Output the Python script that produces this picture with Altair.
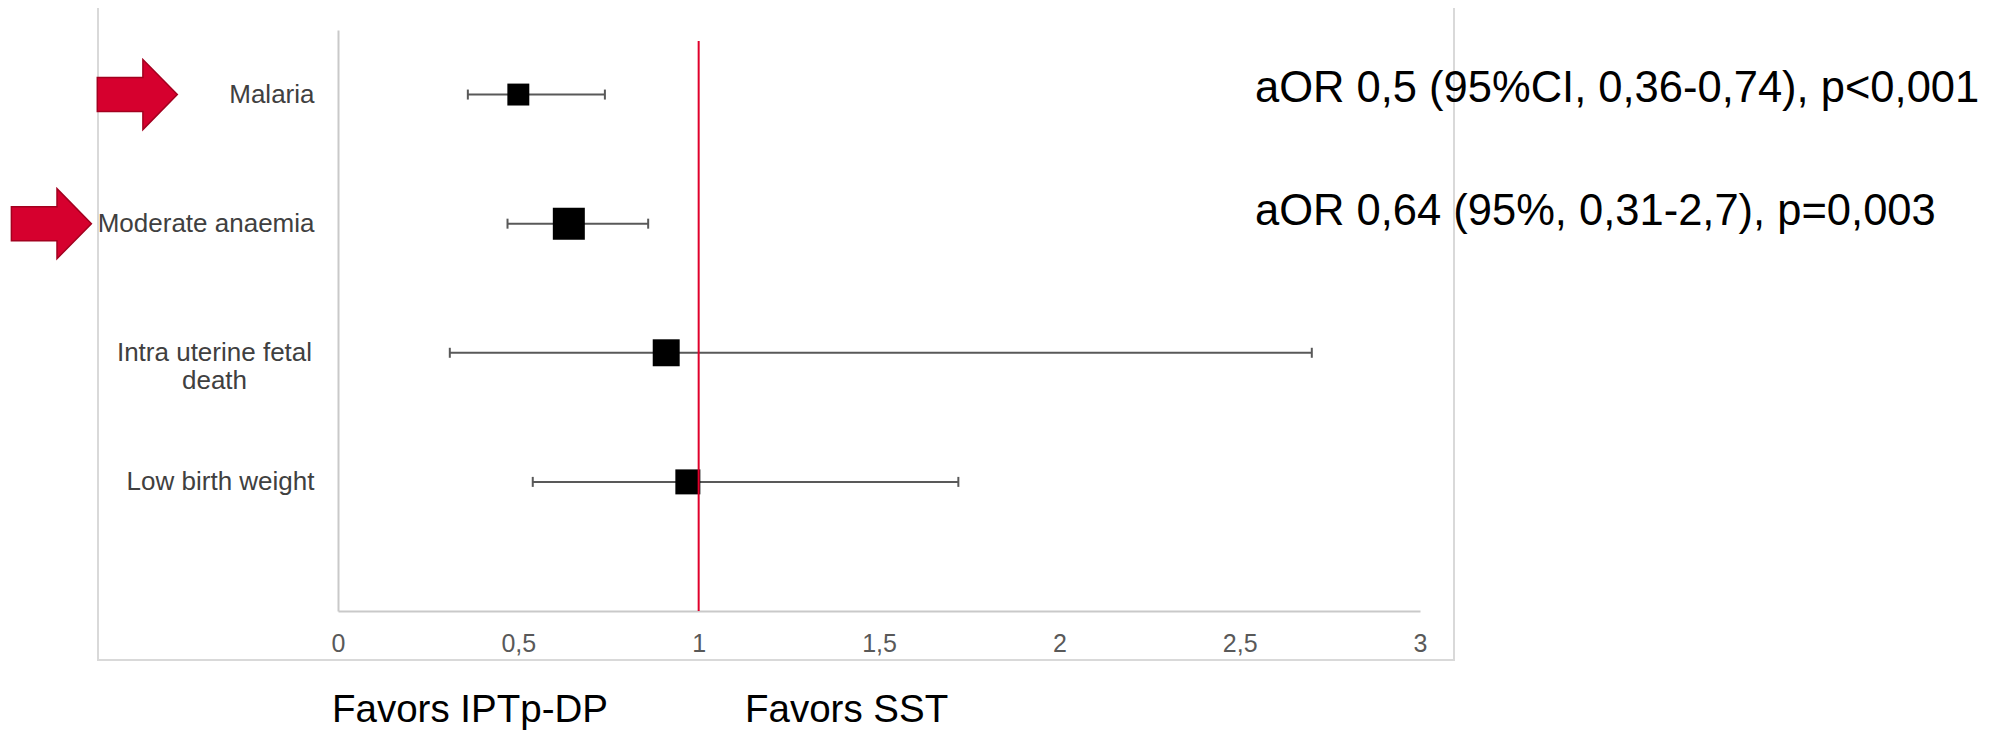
import altair as alt
import pandas as pd

# ---- data ----
categories = ["Malaria", "Moderate anaemia", "Intra uterine fetal\ndeath", "Low birth weight"]
row_position = [4, 3, 2, 1]
aor = [0.50, 0.64, 0.91, 0.97]
ci_low = [0.36, 0.47, 0.31, 0.54]
ci_high = [0.74, 0.86, 2.70, 1.72]
weight = [0.47, 1.00, 0.71, 0.61]
highlighted = [True, True, False, False]
x_ticks = [0, 0.5, 1, 1.5, 2, 2.5, 3]
annotations = ["aOR 0,5 (95%CI, 0,36-0,74), p<0,001", "aOR 0,64 (95%, 0,31-2,7), p=0,003"]
favors = ["Favors IPTp-DP", "Favors SST"]

df = pd.DataFrame({
    "category": categories,
    "row": row_position,
    "aor": aor,
    "low": ci_low,
    "high": ci_high,
    "weight": weight,
    "highlight": highlighted,
    "wrapped": ["\n" in c for c in categories],
})

FONT = "Liberation Sans"
W, H = 1082, 581

xscale = alt.Scale(domain=[0, 3], nice=False, zero=False)
yscale = alt.Scale(domain=[0, 4.5], nice=False, zero=False)

label_expr = " : ".join(
    f"datum.value == {r} ? '{c}'" for r, c in zip(row_position, categories) if "\n" not in c
) + " : ''"

x_axis = alt.Axis(values=x_ticks, labelExpr="replace(format(datum.value, '~g'), '.', ',')",
                  title=None, grid=False, ticks=False, tickSize=0, labelFlush=False,
                  labelOverlap=False, domainColor="#c9c9c9", domainWidth=2,
                  labelFont=FONT, labelFontSize=25, labelColor="#595959", labelPadding=20)
y_axis = alt.Axis(values=row_position, labelExpr=label_expr, title=None, grid=False,
                  ticks=False, tickSize=0, labelFlush=False, labelOverlap=False,
                  domainColor="#c9c9c9", domainWidth=2,
                  labelFont=FONT, labelFontSize=26, labelColor="#404040", labelPadding=24,
                  labelAlign="right", labelBaseline="middle", labelLimit=500)


def X(field):
    return alt.X(field, type="quantitative", scale=xscale, axis=x_axis)


def Y(field):
    return alt.Y(field, type="quantitative", scale=yscale, axis=y_axis)


base = alt.Chart(df)
one = pd.DataFrame({"k": [0]})

frame = alt.Chart(one).mark_rect(fill="transparent", stroke="#d9d9d9", strokeWidth=2).encode(
    x=alt.value(-240), x2=alt.value(1116), y=alt.value(-23), y2=alt.value(630))

whiskers = base.mark_rule(color="#595959", strokeWidth=2).encode(
    x=X("low"), x2="high", y=Y("row"))

caps = base.transform_fold(["low", "high"], as_=["end", "val"]).mark_point(
    shape="M0,-1L0,1", size=100, filled=False, stroke="#595959", strokeWidth=2, opacity=1
).encode(x=X("val"), y=Y("row"))

squares = base.mark_square(color="black", opacity=1, strokeWidth=0).encode(
    x=X("aor"), y=Y("row"),
    size=alt.Size("weight:Q", scale=alt.Scale(domain=[0, 1], range=[0, 1024]), legend=None))

refline = alt.Chart(pd.DataFrame({"ref": [1]})).mark_rule(color="#e0002b", strokeWidth=2).encode(
    x=X("ref"), y=alt.value(11), y2=alt.value(H))

wrapped_label = base.transform_filter("datum.wrapped").mark_text(
    align="center", baseline="middle", lineBreak="\n", lineHeight=28,
    font=FONT, fontSize=26, color="#404040"
).encode(x=alt.value(-123.5), y=Y("row"), text="category:N")

arrow_path = "M-1,-0.425L0.14,-0.425L0.14,-0.875L1,0L0.14,0.875L0.14,0.425L-1,0.425Z"
arrow_layers = []
for name, xpx in [(categories[0], -200.7), (categories[1], -286.6)]:
    arrow_layers.append(
        base.transform_filter(alt.datum.category == name).mark_point(
            shape=arrow_path, size=6400, filled=True, fill="#d6002e",
            stroke="#a3001f", strokeWidth=1.5, opacity=1
        ).encode(x=alt.value(xpx), y=Y("row"))
    )

ann_layers = []
for txt, ypx in zip(annotations, [71.7, 195]):
    ann_layers.append(
        alt.Chart(one).mark_text(align="left", baseline="alphabetic", font=FONT,
                                 fontSize=43.5, color="black").encode(
            x=alt.value(917), y=alt.value(ypx), text=alt.value(txt))
    )

fav_layers = []
for txt, xpx in zip(favors, [-6, 407]):
    fav_layers.append(
        alt.Chart(one).mark_text(align="left", baseline="alphabetic", font=FONT,
                                 fontSize=38.5, color="black").encode(
            x=alt.value(xpx), y=alt.value(692), text=alt.value(txt))
    )

chart = alt.layer(
    frame, whiskers, caps, squares, refline, wrapped_label,
    *arrow_layers, *ann_layers, *fav_layers
).properties(
    width=W, height=H,
    autosize=alt.AutoSizeParams(type="none"),
    padding={"left": 330, "top": 22, "right": 570, "bottom": 120},
    background="white",
).configure_view(stroke="transparent")

chart.save("out.html", embed_options={"renderer": "svg", "actions": False})
